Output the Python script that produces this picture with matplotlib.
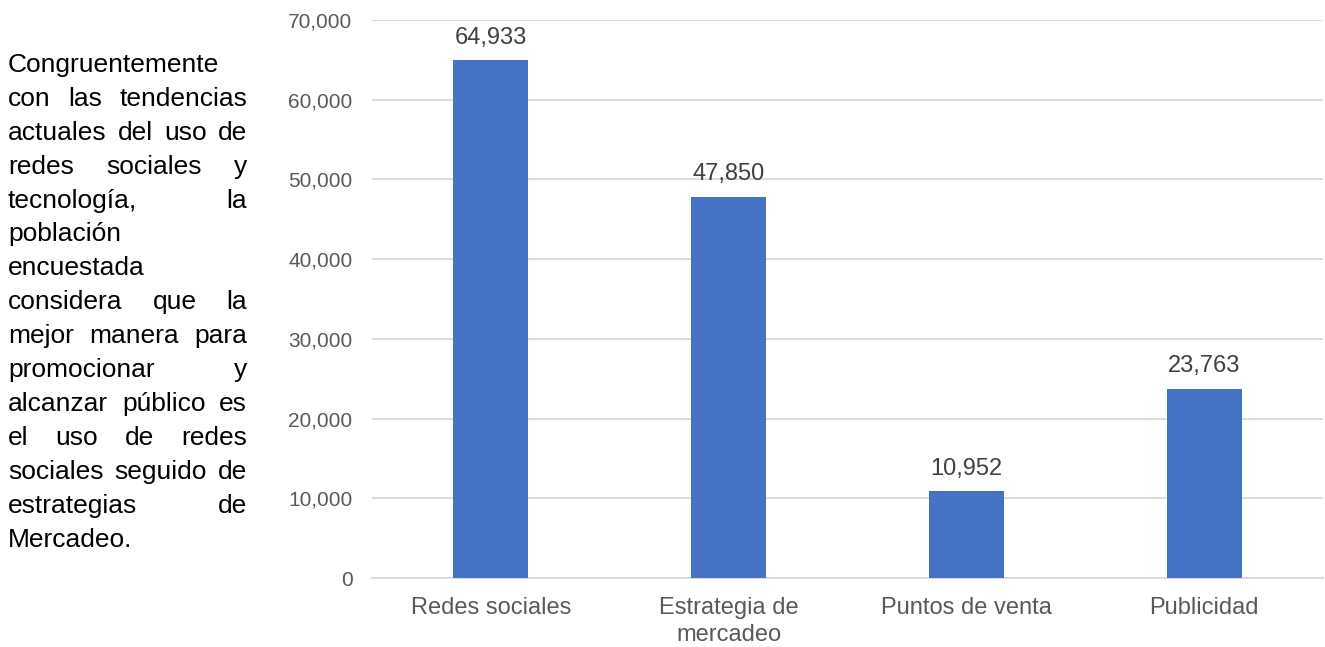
import matplotlib.pyplot as plt

# ---------------------------------------------------------
# DATA
# ---------------------------------------------------------
categories = ["Redes sociales", "Estrategia de\nmercadeo", "Puntos de venta", "Publicidad"]
values = [64933, 47850, 10952, 23763]
y_ticks = [0, 10000, 20000, 30000, 40000, 50000, 60000, 70000]

side_lines = [
    "Congruentemente",
    "con las tendencias",
    "actuales del uso de",
    "redes sociales y",
    "tecnología, la",
    "población",
    "encuestada",
    "considera que la",
    "mejor manera para",
    "promocionar y",
    "alcanzar público es",
    "el uso de redes",
    "sociales seguido de",
    "estrategias de",
    "Mercadeo.",
]

# ---------------------------------------------------------
# STYLE
# ---------------------------------------------------------
plt.rcParams["font.family"] = ["Liberation Sans", "DejaVu Sans"]

W, H = 1325, 647
fig = plt.figure(figsize=(W / 100, H / 100), dpi=100)
ax = fig.add_axes([372 / W, 1 - 578 / H, 951 / W, 558 / H])

# bars
x = list(range(len(categories)))
bars = ax.bar(x, values, width=0.315, color="#4472C4", zorder=3)
ax.bar_label(bars, labels=[f"{v:,}" for v in values], padding=8,
             fontsize=17, color="#404040")

ax.set_xlim(-0.5, len(categories) - 0.5)
ax.set_ylim(0, 70000)
ax.set_yticks(y_ticks)
ax.set_yticklabels([f"{t:,}" for t in y_ticks])
ax.set_xticks(x)
ax.set_xticklabels(categories, linespacing=1.25)

ax.yaxis.grid(True, color="#D9D9D9", linewidth=1.3)
ax.set_axisbelow(True)
for s in ["top", "right", "left"]:
    ax.spines[s].set_visible(False)
ax.spines["bottom"].set_color("#D9D9D9")
ax.spines["bottom"].set_linewidth(1.3)
ax.tick_params(axis="y", length=0, pad=14, labelsize=15, labelcolor="#595959")
ax.tick_params(axis="x", length=0, pad=14, labelsize=17, labelcolor="#595959")

# ---------------------------------------------------------
# JUSTIFIED SIDE TEXT
# ---------------------------------------------------------
renderer = fig.canvas.get_renderer()
left_px, right_px = 8, 247
fs = 19
for i, line in enumerate(side_lines):
    y = 1 - (72 + i * 33.9) / H
    words = line.split()
    texts = [fig.text(0, y, w, fontsize=fs, color="black", va="baseline") for w in words]
    widths = [t.get_window_extent(renderer).width for t in texts]
    if len(words) > 1 and i < len(side_lines) - 1:
        gap = (right_px - left_px - sum(widths)) / (len(words) - 1)
    else:
        gap = 0.278 * fs * 100 / 72
    pos = left_px
    for t, w in zip(texts, widths):
        t.set_x(pos / W)
        pos += w + gap

fig.savefig("out.png", dpi=100)
